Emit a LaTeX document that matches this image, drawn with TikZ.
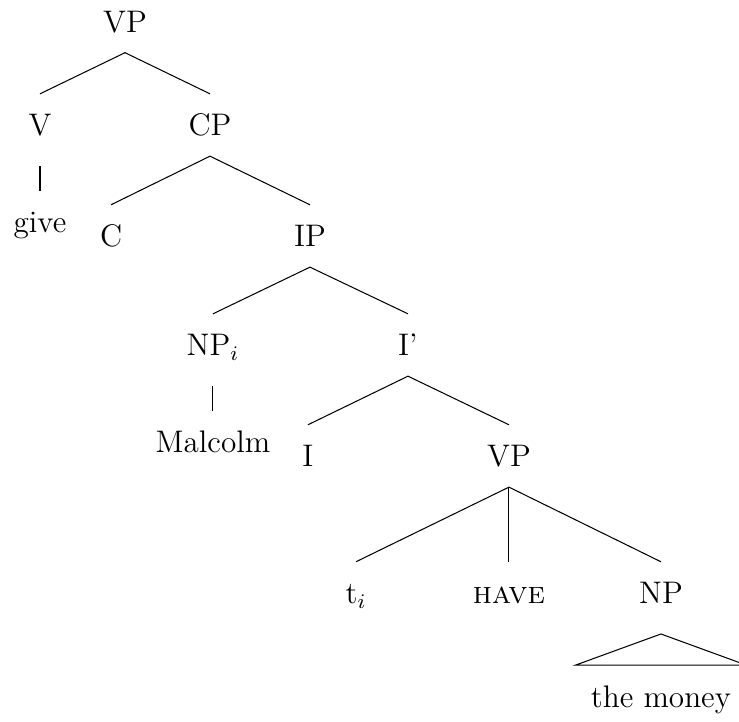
\documentclass[tikz,border=0pt,12pt]{standalone}
\begin{document}
\begin{tikzpicture}[line width=0.4pt,
    cat/.style={text height=8.2pt, text depth=0pt, inner ysep=7.7pt},
    unary/.style={shorten <=3.8pt}]
  \useasboundingbox (0,0) rectangle (9.997,-9.767);
  \node[cat] (vp) at (1.691,-0.291) {VP};
  \node[cat] (v) at (0.541,-1.691) {V};
  \node[cat] (cp) at (2.841,-1.691) {CP};
  \node[cat] (give) at (0.541,-3.007) {give};
  \node[cat] (c) at (1.502,-3.192) {C};
  \node[cat] (ip) at (4.193,-3.192) {IP};
  \node[cat] (npi) at (2.881,-4.667) {NP$_i$};
  \node[cat] (ibar) at (5.519,-4.667) {I'};
  \node[cat] (malcolm) at (2.881,-5.979) {Malcolm};
  \node[cat] (i) at (4.166,-6.168) {I};
  \node[cat] (vpb) at (6.885,-6.168) {VP};
  \node[cat] (ti) at (4.816,-8.021) {t$_i$};
  \node[cat] (have) at (6.885,-8.021) {\textsc{have}};
  \node[cat] (np) at (8.941,-8.021) {NP};
  \node[cat, inner xsep=5.8pt] (money) at (8.941,-9.42) {the money};
  \draw (vp.south) -- (v.north);
  \draw (vp.south) -- (cp.north);
  \draw[unary] (v.south) -- (give.north);
  \draw (cp.south) -- (c.north);
  \draw (cp.south) -- (ip.north);
  \draw (ip.south) -- (npi.north);
  \draw (ip.south) -- (ibar.north);
  \draw[unary] (npi.south) -- (malcolm.north);
  \draw (ibar.south) -- (i.north);
  \draw (ibar.south) -- (vpb.north);
  \draw (vpb.south) -- (ti.north);
  \draw (vpb.south) -- (have.north);
  \draw (vpb.south) -- (np.north);
  \draw ([yshift=-3.8pt]np.south) -- (money.north west) -- (money.north east) -- cycle;
\end{tikzpicture}
\end{document}
